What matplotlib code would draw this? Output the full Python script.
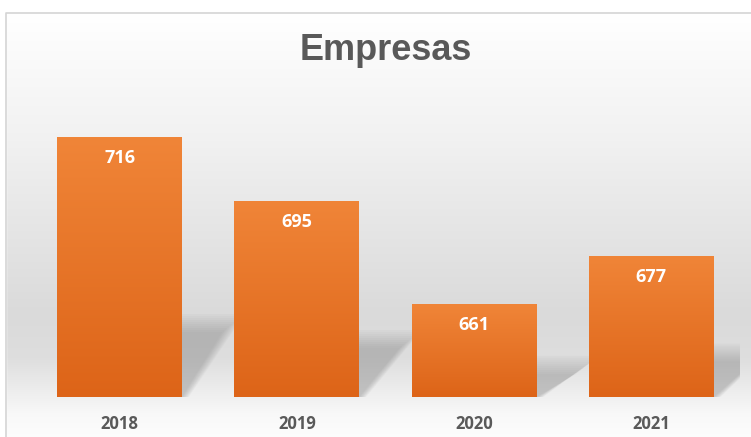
import matplotlib.pyplot as plt
import numpy as np
from matplotlib.patches import Rectangle, Polygon
from matplotlib.colors import LinearSegmentedColormap

years = ['2018', '2019', '2020', '2021']
empresas = [716, 695, 661, 677]

ymin, ymax = 630.4, 734.8

fig = plt.figure(figsize=(7.51, 4.37), dpi=100)

# background gradient (white top -> gray -> light bottom)
bg = fig.add_axes([0, 0, 1, 1])
bg.set_axis_off()
t = np.linspace(0, 1, 437)  # from top
stops = [0.0, 0.03, 0.3, 0.72, 0.82, 0.95, 1.0]
vals = [1.0, 1.0, 0.95, 0.855, 0.87, 0.975, 0.99]
prof = np.interp(t, stops, vals)
img = np.repeat(prof[:, None], 10, axis=1)
bg.imshow(np.dstack([img, img, img]), aspect='auto', extent=[0, 1, 0, 1])
bg.set_xlim(0, 1)
bg.set_ylim(0, 1)
# white area outside chart frame
bg.add_patch(Rectangle((0, 1 - 12 / 437), 1, 1, color='white', zorder=2))
bg.add_patch(Rectangle((0, 0), 6 / 751, 1, color='white', zorder=2))
bg.plot([6.5 / 751, 6.5 / 751, 1.0], [0, 1 - 12.5 / 437, 1 - 12.5 / 437],
        color='#d4d4d4', lw=1.2, zorder=3)

ax = fig.add_axes([31 / 751, 40 / 437, 709 / 751, 317 / 437])
ax.patch.set_alpha(0)
x = np.arange(len(years))
width = 0.705

bar_cmap = LinearSegmentedColormap.from_list('org', ['#dd6418', '#f08538'])
grad = np.linspace(0, 1, 256)[:, None]

# px per data unit
px_x = 709 / 4.0
px_y = 317 / (ymax - ymin)

# soft cast shadows behind bars
for xi, v in zip(x, empresas):
    right = xi + width / 2
    left = xi - width / 2
    hpx = (v - ymin) * px_y
    sh_h = 0.25 * hpx / px_y
    d = 40 / px_x
    n = 10
    for k in range(n):
        grow = (n - 1 - k) * 2.5 / px_x
        growy = (n - 1 - k) * 2.0 / px_y
        poly = Polygon([(left + 0.3, ymin), (right + grow * 0.3, ymin),
                        (right + d + grow, ymin + sh_h + growy),
                        (left + 0.3 + d, ymin + sh_h + growy)],
                       closed=True, facecolor='#707070', edgecolor='none',
                       alpha=0.04, zorder=1)
        ax.add_patch(poly)

bars = ax.bar(x, empresas, width=width, bottom=0, color='none', zorder=2)
for b, v in zip(bars, empresas):
    xl = b.get_x()
    im = ax.imshow(grad, cmap=bar_cmap, aspect='auto', origin='lower',
                   extent=[xl, xl + width, ymin, v], zorder=3)
    clip = Rectangle((xl, ymin), width, v - ymin, transform=ax.transData)
    im.set_clip_path(clip)
    ax.text(b.get_x() + width / 2, v - 21 / px_y, str(v), ha='center',
            va='center', color='white', fontsize=13, fontweight='bold',
            family='Open Sans', zorder=4)

ax.set_xlim(-0.5, 3.5)
ax.set_ylim(ymin, ymax)
ax.set_xticks(x)
ax.set_xticklabels(years, fontsize=12, fontweight='bold', color='#595959',
                   family='Open Sans')
ax.tick_params(axis='x', length=0, pad=13)
ax.set_yticks([])
for s in ax.spines.values():
    s.set_visible(False)

fig.text(386 / 751, 1 - 50 / 437, 'Empresas', ha='center', va='center',
         fontsize=26, fontweight='bold', color='#595959', family='Liberation Sans')

plt.savefig('out.png', dpi=100)
